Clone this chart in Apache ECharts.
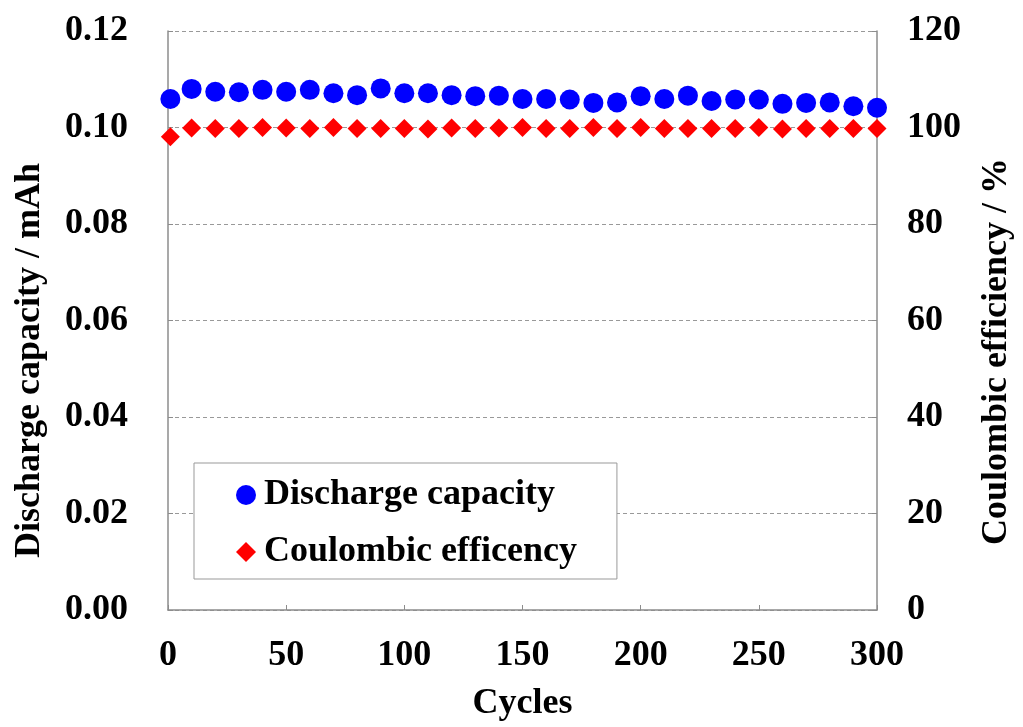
<!DOCTYPE html>
<html>
<head>
<meta charset="utf-8">
<script src="https://cdn.jsdelivr.net/npm/echarts@6/dist/echarts.min.js"></script>
<style>
html,body{margin:0;padding:0;background:#fff;}
#chart{width:1023px;height:727px;}
</style>
</head>
<body>
<div id="chart"></div>
<script>
const cycles = [1,10,20,30,40,50,60,70,80,90,100,110,120,130,140,150,160,170,180,190,200,210,220,230,240,250,260,270,280,290,300];
const dischargeCapacity = [0.1059,0.1080,0.1074,0.1073,0.1078,0.1074,0.1078,0.1071,0.1067,0.1081,0.1071,0.1071,0.1067,0.1065,0.1066,0.1059,0.1059,0.1058,0.1051,0.1052,0.1065,0.1059,0.1066,0.1055,0.1058,0.1058,0.1049,0.1051,0.1052,0.1044,0.1041];
const coulombicEfficiency = [98.1,99.9,99.8,99.8,100.0,99.9,99.8,100.0,99.8,99.8,99.8,99.7,99.9,99.8,99.9,100.0,99.8,99.8,100.0,99.8,100.0,99.8,99.8,99.8,99.8,100.0,99.7,99.8,99.8,99.8,99.8];
const xTicks = {min:0, max:300, interval:50};
const yLeftTicks = {min:0, max:0.12, interval:0.02};
const yRightTicks = {min:0, max:120, interval:20};
const seriesNames = ['Discharge capacity','Coulombic efficency'];

const FONT = "'Liberation Serif', 'Times New Roman', serif";
const axisGray = '#8c8c8c';
const labelStyle = {color:'#000', fontFamily:FONT, fontWeight:'bold', fontSize:36};
const nameStyle = {color:'#000', fontFamily:FONT, fontWeight:'bold', fontSize:36};

const chart = echarts.init(document.getElementById('chart'), null, {renderer:'canvas'});
chart.setOption({
  animation:false,
  backgroundColor:'#fff',
  grid:{left:168, right:137, top:31, bottom:108, containLabel:false},
  legend:{
    orient:'vertical',
    left:194, top:463,
    padding:[14,40,9,42],
    itemGap:21,
    itemWidth:20, itemHeight:20,
    borderColor:'#999', borderWidth:1,
    backgroundColor:'#fff',
    textStyle:{color:'#000', fontFamily:FONT, fontWeight:'bold', fontSize:36, lineHeight:36, padding:[0,0,0,3]},
    data:[{name:seriesNames[0], icon:'circle', itemStyle:{opacity:1}},{name:seriesNames[1], icon:'diamond', itemStyle:{opacity:1}}]
  },
  xAxis:{
    type:'value', min:xTicks.min, max:xTicks.max, interval:xTicks.interval,
    name:'Cycles', nameLocation:'middle', nameGap:76, nameTextStyle:nameStyle,
    axisLine:{show:true, lineStyle:{color:axisGray, width:1.5}},
    axisTick:{show:true, inside:true, length:5, lineStyle:{color:axisGray}},
    axisLabel:{...labelStyle, margin:28},
    splitLine:{show:false}
  },
  yAxis:[{
    type:'value', min:yLeftTicks.min, max:yLeftTicks.max, interval:yLeftTicks.interval,
    position:'left',
    name:'Discharge capacity / mAh', nameLocation:'middle', nameGap:120, nameRotate:90,
    nameTextStyle:{...nameStyle, padding:[0,80,0,0]},
    axisLine:{show:true, lineStyle:{color:axisGray, width:1.5}},
    axisTick:{show:true, inside:true, length:5, lineStyle:{color:axisGray}},
    axisLabel:{...labelStyle, margin:40, formatter:v=>v.toFixed(2)},
    splitLine:{show:true, lineStyle:{color:'#999', type:[4,3], width:1}}
  },{
    type:'value', min:yRightTicks.min, max:yRightTicks.max, interval:yRightTicks.interval,
    position:'right',
    name:'Coulombic efficiency / %', nameLocation:'middle', nameGap:102, nameRotate:90,
    nameTextStyle:{...nameStyle, padding:[0,62,0,0]},
    axisLine:{show:true, lineStyle:{color:axisGray, width:1.5}},
    axisTick:{show:true, inside:true, length:5, lineStyle:{color:axisGray}},
    axisLabel:{...labelStyle, margin:30},
    splitLine:{show:false}
  }],
  series:[{
    name:seriesNames[0], type:'scatter', yAxisIndex:0,
    symbol:'circle', symbolSize:20,
    itemStyle:{color:'#0000ff', opacity:1},
    data:cycles.map((c,i)=>[c, dischargeCapacity[i]]),
    z:3
  },{
    name:seriesNames[1], type:'scatter', yAxisIndex:1,
    symbol:'diamond', symbolSize:19,
    itemStyle:{color:'#ff0000', opacity:1},
    data:cycles.map((c,i)=>[c, coulombicEfficiency[i]]),
    z:3
  }]
});
</script>
</body>
</html>
